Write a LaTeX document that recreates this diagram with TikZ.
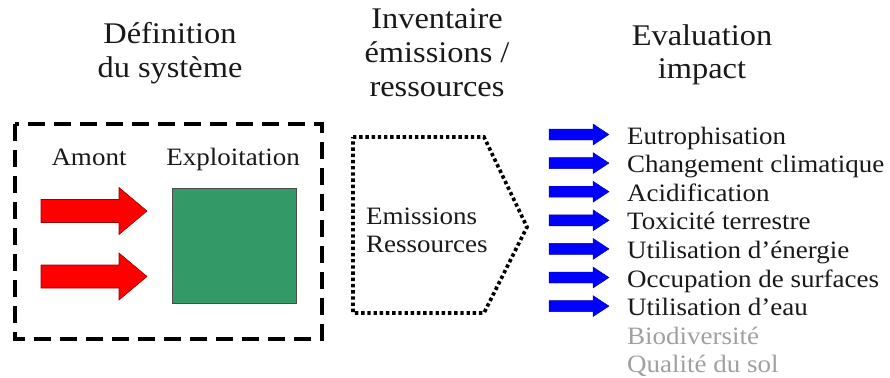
\documentclass[tikz,border=0pt]{standalone}
\usepackage{fontspec}
\setmainfont{Liberation Serif}[FakeStretch=1.08]
\definecolor{arrowred}{RGB}{255,0,0}
\definecolor{arrowblue}{RGB}{0,0,255}
\definecolor{boxgreen}{RGB}{51,153,102}
\definecolor{softgray}{RGB}{160,160,160}
\begin{document}
\begin{tikzpicture}[x=1pt,y=-1pt,
  header/.style={font=\fontsize{30}{35}\selectfont, anchor=base, inner sep=0pt, text=black!90},
  label/.style={font=\fontsize{25}{29}\selectfont, anchor=base west, inner sep=0pt, text=black!90},
  graylabel/.style={label, text=softgray},
  sysbox/.style={draw=black, line width=4pt, dash pattern=on 17pt off 9pt},
  invbox/.style={draw=black, line width=3.6pt, dash pattern=on 3.4pt off 2.8pt},
  redarrow/.pic={\fill[arrowred, draw=arrowred!60!black, line width=0.6pt]
      (0,-11.5) -- (78,-11.5) -- (78,-23.5) -- (106,0) -- (78,23.5) -- (78,11.5) -- (0,11.5) -- cycle;},
  bluearrow/.pic={\fill[arrowblue, draw=arrowblue!70!black, line width=0.4pt]
      (0,-5.5) -- (44,-5.5) -- (44,-10.5) -- (60,0) -- (44,10.5) -- (44,5.5) -- (0,5.5) -- cycle;}
]
\useasboundingbox (0,0) rectangle (890,377);

% headers
\node[header] (h1a) at (170,44) {Définition};
\node[header] (h1b) at (170,78) {du système};
\node[header] (h2a) at (437,29) {Inventaire};
\node[header] (h2b) at (437,63) {émissions /};
\node[header] (h2c) at (437,97) {ressources};
\node[header] (h3a) at (702,46) {Evaluation};
\node[header] (h3b) at (702,79) {impact};

% system definition
\draw[sysbox] (15,124) rectangle (322,339);
\node[label, anchor=base] (amont) at (89,165) {Amont};
\node[label, anchor=base] (exploit) at (233,165) {Exploitation};
\pic at (41,211) {redarrow};
\pic at (41,276.5) {redarrow};
\node[draw=black!70, line width=0.8pt, fill=boxgreen, minimum width=124pt, minimum height=115pt, inner sep=0pt] (green) at (234,246) {};

% inventory
\draw[invbox] (353,137) -- (484,137) -- (527,227) -- (484,313) -- (353,313) -- cycle;
\node[label] (em) at (366,224) {Emissions};
\node[label] (res) at (366,252) {Ressources};

% impacts
\foreach \t [count=\i from 0] in {Eutrophisation, Changement climatique, Acidification, Toxicité terrestre, Utilisation d’énergie, Occupation de surfaces, Utilisation d’eau}{
  \pic at (549,{134.5+28.6*\i}) {bluearrow};
  \node[label] (imp\i) at (627,{144+28.6*\i}) {\t};
}
\node[graylabel] (bio) at (627,344.2) {Biodiversité};
\node[graylabel] (sol) at (627,372.8) {Qualité du sol};
\end{tikzpicture}
\end{document}
